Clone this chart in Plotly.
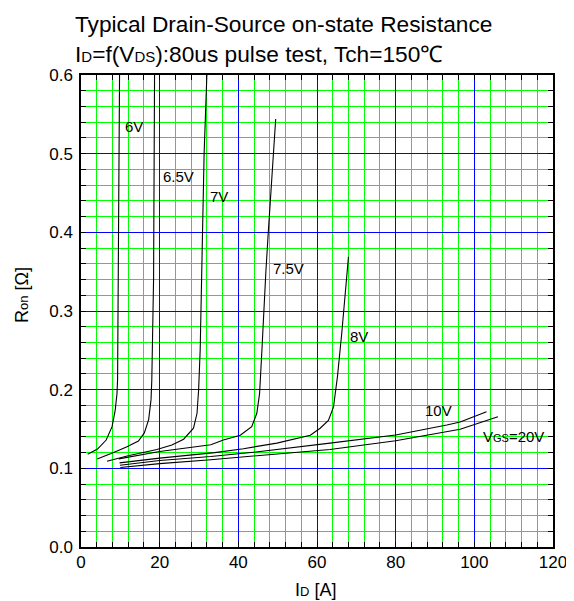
import plotly.graph_objects as go

# curves: drain current [A] vs on-resistance [ohm]
id_6v = [1.7, 4.2, 6.4, 7.9, 8.7, 9.15, 9.3, 9.5, 9.8]
r_6v = [0.118, 0.1245, 0.136, 0.153, 0.174, 0.195, 0.213, 0.4, 0.6]

id_65v = [4.1, 8.3, 11.7, 14.6, 16.1, 17.2, 17.8, 18.0, 18.45, 18.7]
r_65v = [0.112, 0.120, 0.1275, 0.1347, 0.145, 0.162, 0.187, 0.212, 0.34, 0.6]

id_7v = [6.6, 12, 19.3, 23.1, 26.1, 28.6, 29.5, 29.9, 30.3, 30.6, 30.8, 31.3, 32.0]
r_7v = [0.109, 0.116, 0.124, 0.1296, 0.137, 0.151, 0.170, 0.1996, 0.2505, 0.339, 0.378, 0.5, 0.6]

id_75v = [9.6, 20, 33, 36.2, 40.5, 43.4, 44.7, 45.4, 46.0, 46.6, 47.0, 47.6, 48.1, 48.8, 49.5]
r_75v = [0.112, 0.1215, 0.130, 0.136, 0.142, 0.153, 0.170, 0.195, 0.2505, 0.314, 0.35, 0.399, 0.441, 0.5, 0.544]

id_8v = [9.8, 20, 34, 41.3, 49.8, 56.6, 58.3, 60.8, 62.9, 64.2, 65.2, 66.3, 67.4, 68.0]
r_8v = [0.107, 0.113, 0.120, 0.125, 0.132, 0.140, 0.142, 0.151, 0.161, 0.178, 0.2166, 0.272, 0.335, 0.369]

id_10v = [9.9, 20, 33, 45, 63.3, 80, 93, 96.4, 103.1]
r_10v = [0.104, 0.110, 0.115, 0.121, 0.132, 0.1424, 0.155, 0.159, 0.172]

id_20v = [10, 20, 33, 45, 63.3, 80, 93, 96.4, 106]
r_20v = [0.101, 0.106, 0.111, 0.116, 0.124, 0.135, 0.146, 0.1496, 0.1657]

curves = [
    (id_6v, r_6v), (id_65v, r_65v), (id_7v, r_7v), (id_75v, r_75v),
    (id_8v, r_8v), (id_10v, r_10v), (id_20v, r_20v),
]

# curve labels and where they sit (data coords)
label_text = ["6V", "6.5V", "7V", "7.5V", "8V", "10V",
              "V<span style='font-size:11px'>GS</span>=20V"]
label_x = [13.5, 24.8, 35.0, 52.7, 70.8, 90.9, 109.9]
label_y = [0.535, 0.471, 0.4455, 0.354, 0.268, 0.173, 0.140]

title_lines = [
    "Typical Drain-Source on-state Resistance",
    "I<span style='font-size:15px'>D</span>=f(V<span style='font-size:15px'>DS</span>)"
    ":80us pulse test, Tch=150℃",
]

FONT = "Liberation Sans, Arial, sans-serif"

# minor grid every 4 A / 0.02 ohm, skipping the spots where the blue major lines go
minor_x = [v for v in range(0, 121, 4) if v % 20]
minor_y = [round(v * 0.02, 2) for v in range(0, 31) if v % 5]

fig = go.Figure()
for xs, ys in curves:
    fig.add_trace(go.Scatter(x=xs, y=ys, mode="lines",
                             line=dict(color="black", width=1.1),
                             showlegend=False, hoverinfo="skip"))

for t, lx, ly in zip(label_text, label_x, label_y):
    fig.add_annotation(x=lx, y=ly, text=t, showarrow=False,
                       font=dict(family=FONT, size=15, color="black"))

axis_common = dict(
    showline=True, linecolor="black", linewidth=1.5, mirror="ticks",
    ticks="inside", ticklen=5, tickcolor="black", tickwidth=1,
    showgrid=True, gridcolor="#0000ff", gridwidth=1,
    zeroline=False, automargin=False,
    tickfont=dict(family=FONT, size=17, color="black"),
)

fig.update_xaxes(
    range=[0, 120], dtick=20, tick0=0,
    minor=dict(tickmode="array", tickvals=minor_x, ticks="inside", ticklen=5,
               tickcolor="black", showgrid=True, gridcolor="#00ff00", gridwidth=1),
    ticklabelstandoff=-1,
    **axis_common,
)
fig.update_yaxes(
    range=[0, 0.6], dtick=0.1, tick0=0, tickformat=".1f",
    minor=dict(tickmode="array", tickvals=minor_y, ticks="inside", ticklen=5,
               tickcolor="black", showgrid=True, gridcolor="#00ff00", gridwidth=1),
    ticklabelstandoff=3,
    **axis_common,
)

# axis titles as annotations so they sit where the reference has them
# (positions below are in page pixels of the plot frame: left 81, top 75, bottom 547)
fig.add_annotation(
    text="I<span style='font-size:13px'>D</span> [A]", showarrow=False,
    xref="paper", yref="paper", x=(315 - 81) / 472, y=-(590 - 547) / 472,
    xanchor="center", yanchor="middle",
    font=dict(family=FONT, size=18, color="black"),
)
fig.add_annotation(
    text="R<span style='font-size:13px'>on</span> [Ω]", showarrow=False, textangle=-90,
    xref="paper", yref="paper", x=-(81 - 22) / 472, y=(547 - 295) / 472,
    xanchor="center", yanchor="middle",
    font=dict(family=FONT, size=18, color="black"),
)

# two title lines, bottoms of their boxes at page y 38.7 and 69
for line, bottom in zip(title_lines, [38.7, 69]):
    fig.add_annotation(
        text=line, showarrow=False, align="left",
        xref="paper", yref="paper", x=(73 - 81) / 472, y=1 + (75 - bottom) / 472,
        xanchor="left", yanchor="bottom",
        font=dict(family=FONT, size=22.7, color="black"),
    )

# the page body has an 8px margin, so the figure is 8px smaller than the window
fig.update_layout(
    width=566, height=593,
    margin=dict(l=73, r=21, t=67, b=54),
    paper_bgcolor="white", plot_bgcolor="white",
)

fig.write_html("out.html")
